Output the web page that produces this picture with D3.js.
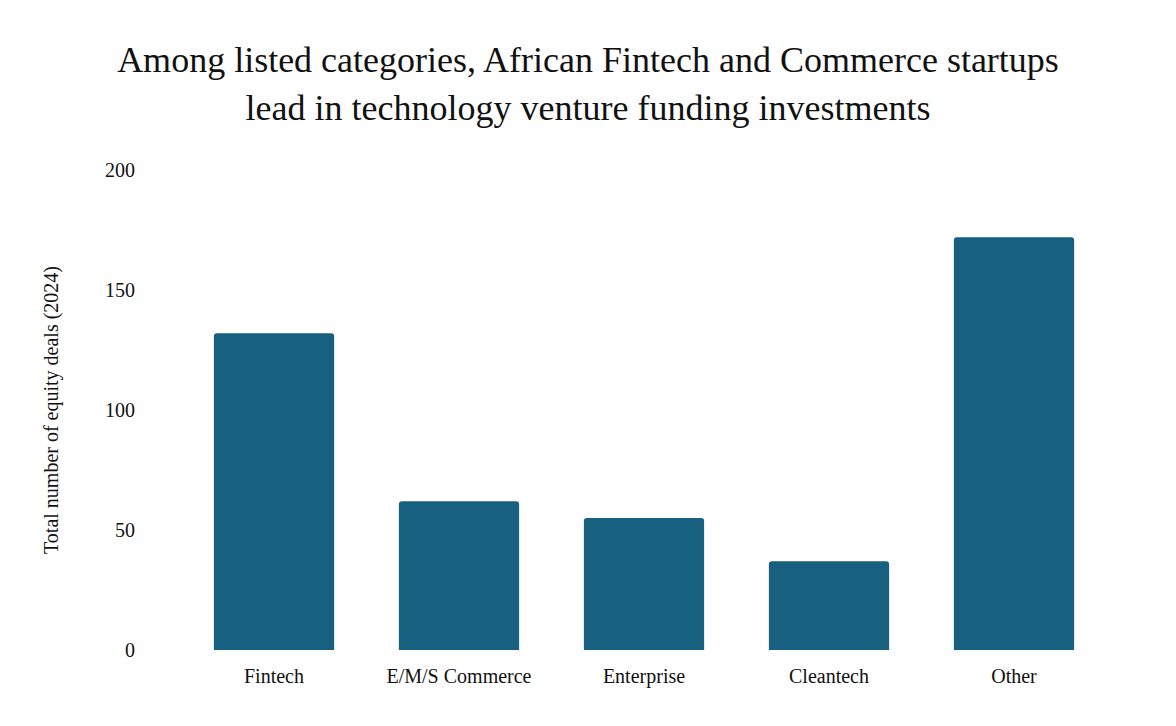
<!DOCTYPE html>
<html>
<head>
<meta charset="utf-8">
<script src="https://cdn.jsdelivr.net/npm/d3@7"></script>
<style>
  body { margin: 0; background: #fff; }
  text { font-family: "Liberation Serif", "Times New Roman", serif; fill: #111; }
</style>
</head>
<body>
<div id="chart"></div>
<script>
// data
const categories = ["Fintech", "E/M/S Commerce", "Enterprise", "Cleantech", "Other"];
const deals = [132, 62, 55, 37, 172];
const yTicks = [0, 50, 100, 150, 200];

const W = 1176, H = 726;
const svg = d3.select("#chart").append("svg").attr("width", W).attr("height", H);

// title
const title = svg.append("text").attr("text-anchor", "middle").style("font-size", "36px");
title.append("tspan").attr("x", 588).attr("y", 72)
  .text("Among listed categories, African Fintech and Commerce startups");
title.append("tspan").attr("x", 588).attr("y", 120)
  .text("lead in technology venture funding investments");

// scales
const x = d3.scaleBand().domain(categories).range([181.5, 1106.5])
  .paddingInner(0.35).paddingOuter(0.175);
const y = d3.scaleLinear().domain([0, 200]).range([650, 170]);

// y ticks (no axis line)
svg.append("g").selectAll("text").data(yTicks).join("text")
  .attr("x", 135).attr("y", d => y(d)).attr("dy", "0.35em")
  .attr("text-anchor", "end").style("font-size", "20px").text(d => d);

// y label
svg.append("text")
  .attr("transform", `translate(58, ${y(100)}) rotate(-90)`)
  .attr("text-anchor", "middle").style("font-size", "20px")
  .text("Total number of equity deals (2024)");

// bars with slightly rounded tops
const r = 3;
svg.append("g").selectAll("path").data(categories).join("path")
  .attr("fill", "#17607f")
  .attr("d", (c, i) => {
    const x0 = x(c), w = x.bandwidth(), yt = y(deals[i]), yb = y(0);
    return `M${x0},${yb} V${yt + r} Q${x0},${yt} ${x0 + r},${yt} H${x0 + w - r} Q${x0 + w},${yt} ${x0 + w},${yt + r} V${yb} Z`;
  });

// x labels
svg.append("g").selectAll("text").data(categories).join("text")
  .attr("x", c => x(c) + x.bandwidth() / 2).attr("y", 683)
  .attr("text-anchor", "middle").style("font-size", "20px").text(c => c);
</script>
</body>
</html>
